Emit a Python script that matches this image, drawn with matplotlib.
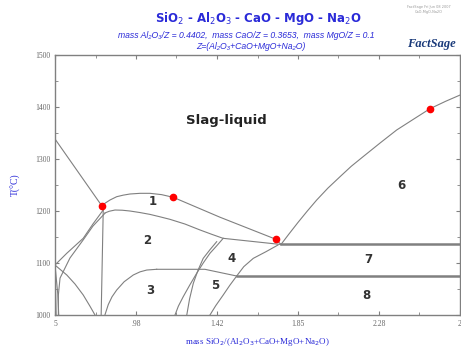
import numpy as np
import matplotlib
matplotlib.use("Agg")
import matplotlib.pyplot as plt
from matplotlib.ticker import MultipleLocator, FixedLocator

# phase boundaries, x = mass SiO2/Z, y = T(C)
liq_left_x = [0.55, 0.800]
liq_left_t = [1338.5, 1210.2]

liq_top_x = [0.800, 0.822, 0.844, 0.880, 0.915, 0.951, 1.005, 1.058, 1.120, 1.183, 1.433, 1.732, 1.759]
liq_top_t = [1210.2, 1216.0, 1221.1, 1227.5, 1230.5, 1232.7, 1234.0, 1234.0, 1231.5, 1226.3, 1188.0, 1145.6, 1135.6]

liq_right_x = [1.759, 1.800, 1.850, 1.900, 1.950, 2.010, 2.075, 2.135, 2.198, 2.290, 2.378, 2.470, 2.556, 2.640, 2.717]
liq_right_t = [1135.6, 1155.0, 1178.0, 1200.0, 1221.1, 1244.0, 1266.0, 1286.0, 1304.4, 1331.0, 1355.8, 1377.0, 1396.7, 1411.0, 1423.0]

b12_x = [0.817, 0.840, 0.871, 0.910, 0.951, 1.005, 1.058, 1.110, 1.165, 1.245, 1.326, 1.390, 1.449, 1.759]
b12_t = [1196.2, 1199.5, 1201.9, 1201.5, 1200.0, 1197.0, 1193.5, 1189.0, 1184.0, 1175.0, 1163.5, 1155.0, 1147.5, 1135.6]

arc1_x = [1.450, 1.415, 1.379, 1.343, 1.308, 1.270, 1.236, 1.210, 1.192]
arc1_t = [1147.5, 1133.0, 1118.7, 1100.0, 1080.2, 1057.0, 1035.2, 1017.0, 1000]
arc2_x = [1.415, 1.380, 1.343, 1.315, 1.290, 1.270, 1.255]
arc2_t = [1141.0, 1126.0, 1109.0, 1086.0, 1061.0, 1031.0, 1000]
arc3_x = [1.743, 1.680, 1.611, 1.560, 1.522, 1.485, 1.450, 1.410, 1.379]
arc3_t = [1134.6, 1122.0, 1109.0, 1093.0, 1075.0, 1057.0, 1038.5, 1018.0, 1000]

top7_x = [1.759, 2.717]
top7_t = [1135.6, 1135.6]
top8_x = [1.522, 2.717]
top8_t = [1075.0, 1075.0]

b45_x = [1.094, 1.352, 1.522]
b45_t = [1087.9, 1087.9, 1075.0]

arc_r3_x = [0.817, 0.835, 0.855, 0.880, 0.920, 0.969, 1.005, 1.041, 1.094]
arc_r3_t = [1000, 1020.0, 1035.0, 1048.0, 1064.0, 1077.0, 1083.0, 1086.5, 1087.9]

vert_x = [0.808, 0.797]
vert_t = [1201.0, 1000]

left1_x = [0.808, 0.753, 0.701, 0.613, 0.55]
left1_t = [1201.9, 1175.0, 1147.5, 1118.7, 1096.2]
left2_x = [0.817, 0.753, 0.700, 0.630, 0.577, 0.568, 0.568]
left2_t = [1195.6, 1171.0, 1144.0, 1109.6, 1071.0, 1038.5, 1000]
left3_x = [0.55, 0.613, 0.657, 0.701, 0.737, 0.764]
left3_t = [1096.0, 1077.0, 1059.6, 1038.5, 1017.0, 1000]
left4_x = [0.55, 0.565, 0.570]
left4_t = [1096.0, 1040.0, 1000]
left5_x = [0.55, 0.553, 0.556]
left5_t = [1096.0, 1050.0, 1000]

dots_x = [0.800, 1.183, 1.732, 2.556]
dots_t = [1210.2, 1226.3, 1145.6, 1396.7]

region_labels = ["1", "2", "3", "4", "5", "6", "7", "8"]
region_x = [1.074, 1.041, 1.058, 1.495, 1.406, 2.405, 2.226, 2.218]
region_t = [1219, 1144, 1048, 1109, 1056, 1250, 1106, 1037]

xticks = [0.55, 0.9833, 1.4167, 1.85, 2.2833, 2.7167]
xticklabels = ["5", ".98", "1.42", "1.85", "2.28", "2"]
yticks = [1000, 1100, 1200, 1300, 1400, 1500]

blue = "#2a2ad8"
gray = "#808080"

fig = plt.figure(figsize=(4.61, 3.49), dpi=100)
ax = fig.add_axes([0.1193, 0.0974, 0.8785, 0.745])

curves = [(liq_left_x, liq_left_t), (liq_top_x, liq_top_t), (liq_right_x, liq_right_t),
          (b12_x, b12_t), (arc1_x, arc1_t), (arc2_x, arc2_t), (arc3_x, arc3_t),
          (b45_x, b45_t), (arc_r3_x, arc_r3_t), (vert_x, vert_t),
          (left1_x, left1_t), (left2_x, left2_t), (left3_x, left3_t),
          (left4_x, left4_t), (left5_x, left5_t)]
for cx, ct in curves:
    ax.plot(cx, ct, color=gray, lw=0.8)
ax.plot(top7_x, top7_t, color=gray, lw=1.8)
ax.plot(top8_x, top8_t, color=gray, lw=1.8)

ax.plot(dots_x, dots_t, "o", color="red", ms=4.5, zorder=5)

for lab, rx, rt in zip(region_labels, region_x, region_t):
    ax.text(rx, rt, lab, ha="center", va="center", fontsize=8.5, fontweight="bold", color="#333333")
ax.text(1.468, 1375, "Slag-liquid", ha="center", va="center", fontsize=9.5,
        fontweight="bold", color="#222222")

ax.set_xlim(0.55, 2.7167)
ax.set_ylim(1000, 1500)
ax.xaxis.set_major_locator(FixedLocator(xticks))
ax.set_xticklabels(xticklabels)
ax.xaxis.set_minor_locator(FixedLocator([v + 0.2167 for v in xticks[:-1]]))
ax.set_yticks(yticks)
ax.yaxis.set_minor_locator(MultipleLocator(50))
ax.tick_params(which="both", direction="in", top=True, right=True, color=gray,
               labelsize=5.5, labelcolor="#666666", length=3)
ax.tick_params(which="minor", length=2)
for lbl in ax.get_xticklabels() + ax.get_yticklabels():
    lbl.set_family("Liberation Serif")
for s in ax.spines.values():
    s.set_color(gray)
    s.set_linewidth(1.0)

ax.set_xlabel("mass SiO$_2$/(Al$_2$O$_3$+CaO+MgO+Na$_2$O)", color=blue, fontsize=6.5,
              family="Liberation Serif", labelpad=6)
ax.set_ylabel("T(°C)", color=blue, fontsize=7, family="Liberation Serif", labelpad=10)

sub_fonts = ["Liberation Sans", "DejaVu Sans"]
fig.text(0.56, 0.948, "SiO$_2$ - Al$_2$O$_3$ - CaO - MgO - Na$_2$O", ha="center", va="center",
         color=blue, fontsize=8.5, fontweight="bold")
fig.text(0.535, 0.898, "mass Al₂O₃/Z = 0.4402,  mass CaO/Z = 0.3653,  mass MgO/Z = 0.1",
         ha="center", va="center", color=blue, fontsize=6.2, style="italic",
         family=sub_fonts)
fig.text(0.545, 0.868, "Z=(Al₂O₃+CaO+MgO+Na₂O)", ha="center", va="center",
         color=blue, fontsize=6.2, style="italic", family=sub_fonts)
fig.text(0.935, 0.875, "FactSage", ha="center", va="center", color="#1a3a7a",
         fontsize=9, fontweight="bold", style="italic", family="Liberation Serif")
fig.text(0.93, 0.972, "FactSage Fri Jun 08 2007\nCaO-MgO-Na2O", ha="center", va="center",
         color="#999999", fontsize=2.5)

fig.savefig("out.png", dpi=100)
